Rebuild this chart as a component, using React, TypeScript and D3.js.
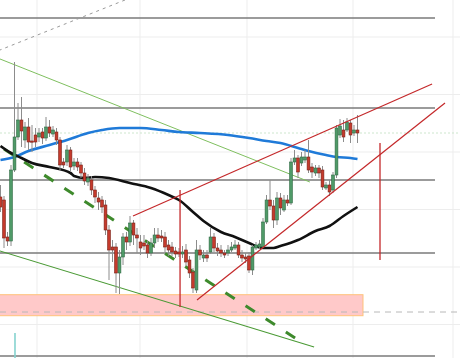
import React, { useEffect } from 'react';
import * as d3 from 'd3';

const W = 460;
const H = 358;

// Candles (price units)
const OPEN = [
  803,800,763,759,830,863,880,860,873,859,
  865,863,868,862,873,866,868,860,838,838,
  850,834,838,835,827,818,820,810,802,800,
  795,770,753,753,727,743,763,758,777,765,
  758,757,755,747,757,765,764,763,755,753,
  749,748,746,750,740,728,710,750,742,745,
  748,763,752,750,747,747,750,752,755,745,
  743,744,730,752,753,753,778,800,794,780,
  802,790,800,797,838,842,837,840,843,833,
  827,832,830,812,815,810,825,865,870,870,
  877,867,870
];
const CLOSE = [
  793,762,759,830,863,880,869,873,858,858,
  858,867,862,873,867,870,860,835,835,850,
  833,838,833,827,819,822,810,803,798,793,
  770,750,750,727,743,763,758,777,765,762,
  752,754,747,757,765,762,762,753,750,748,
  746,746,748,738,727,712,750,745,745,742,
  763,752,749,747,745,750,753,755,745,742,
  741,730,753,755,756,778,800,794,780,802,
  792,800,797,838,842,828,843,843,830,828,
  832,827,813,815,808,825,872,874,863,878,
  865,870,867
];
const HIGH = [
  815,804,768,835,938,897,903,878,882,875,
  872,872,872,883,880,874,872,863,842,855,
  853,842,842,838,832,826,824,814,808,804,
  800,775,760,757,750,767,768,784,780,772,
  765,765,760,762,772,772,770,768,760,758,
  753,752,754,756,744,732,760,755,750,750,
  773,767,757,755,750,755,758,760,758,750,
  747,748,755,758,760,782,805,820,800,808,
  807,805,805,842,850,845,848,850,860,837,
  835,835,834,818,820,828,875,881,880,882,
  880,875,885
];
const LOW = [
  788,752,754,754,828,860,853,852,850,848,
  853,858,856,859,863,863,855,830,832,834,
  828,830,829,822,815,814,805,797,790,787,
  765,720,738,707,706,735,750,754,755,747,
  745,750,742,744,752,758,758,748,744,744,
  742,743,742,734,722,707,707,740,738,738,
  746,748,744,743,742,744,748,750,742,738,
  737,727,725,750,751,752,776,790,772,775,
  785,788,794,795,835,822,834,837,827,822,
  824,822,810,810,804,807,822,862,858,868,
  857,864,857
];

// Moving averages (candle index, price)
const BLUE_IDX = [0,4,8,14,19,25,29,34,40,46,51,57,65,71,76,80,85,88,93,96,100,102];
const BLUE_VAL = [840,843,849,855,860,867,870,872,872,870,868,867,865,862,859,857,852,849,845,843,842,841];
const BLACK_IDX = [0,3,6,9,14,20,21,24,27,31,37,43,48,51,55,58,63,67,71,75,78,80,85,90,94,98,102];
const BLACK_VAL = [854,847,842,837,833,827,824,822,823,822,817,812,805,800,788,779,768,763,757,752,752,754,760,769,774,784,793];

// Drawn trend lines: [index, price] endpoints
const GRAY_DOTTED = [[-0.5, 949.5], [36, 1000.6]];
const GREEN_UPPER = [[-0.5, 941.5], [88.4, 818]];
const GREEN_LOWER = [[-0.5, 749.4], [89.6, 653]];
const GREEN_DASHED = [[1, 851], [86.4, 657]];
const RED_UPPER = [[37.86, 784], [123.3, 916]];
const RED_LOWER = [[56.14, 700], [127, 897]];
const RED_VERT_A = [[51.3, 810], [51.3, 693]];
const RED_VERT_B = [[108.43, 857], [108.43, 740]];

// Horizontal levels and grid
const LEVELS = [982, 892, 820, 747, 644];
const LEVEL_SPAN = [-0.5, 124.14];
const GRID_PRICES = [963, 905.5, 848, 790.5, 733, 675.5];
const GRID_IDX = [10.43, 39.86, 70.43, 100.71, 129.29];
const DOTTED_LEVEL = 867;
const DASHED_LEVEL = 688;
const ZONE_PRICES = [684.3, 705.3];
const ZONE_IDX = [-0.5, 103.57];
const TEAL_BAR = [4.14, 667, 642];

export default function App() {
  useEffect(() => {
    document.body.style.margin = '0';
  }, []);

  const x = d3.scaleLinear().domain([0, OPEN.length - 1]).range([0.5, 357.5]);
  const y = d3.scaleLinear().domain([642, 1000]).range([H, 0]);

  const seg = d3.line<number[]>().x(d => x(d[0])).y(d => y(d[1]));
  const ma = d3.line<[number, number]>().x(d => x(d[0])).y(d => y(d[1])).curve(d3.curveMonotoneX);
  const bluePts = d3.zip(BLUE_IDX, BLUE_VAL) as [number, number][];
  const blackPts = d3.zip(BLACK_IDX, BLACK_VAL) as [number, number][];

  const bodyW = 2.8;

  return (
    <svg width={W} height={H} style={{ position: 'absolute', left: 0, top: 0, background: '#fff' }}>
      {GRID_PRICES.map((p, i) => (
        <line key={'gh' + i} x1={0} x2={W} y1={y(p)} y2={y(p)} stroke="#ededed" strokeWidth={1} />
      ))}
      {GRID_IDX.map((g, i) => (
        <line key={'gv' + i} x1={x(g)} x2={x(g)} y1={0} y2={H} stroke="#ededed" strokeWidth={1} />
      ))}

      <rect
        x={x(ZONE_IDX[0])}
        width={x(ZONE_IDX[1]) - x(ZONE_IDX[0])}
        y={y(ZONE_PRICES[1])}
        height={y(ZONE_PRICES[0]) - y(ZONE_PRICES[1])}
        fill="#ffc9c9"
        stroke="#ffc27a"
        strokeWidth={1}
      />
      <line x1={0} x2={W} y1={y(DASHED_LEVEL)} y2={y(DASHED_LEVEL)} stroke="#b8b8b8" strokeWidth={1} strokeDasharray="6 5" />
      <line x1={0} x2={W} y1={y(DOTTED_LEVEL)} y2={y(DOTTED_LEVEL)} stroke="#cde6cd" strokeWidth={1} strokeDasharray="2 2" />

      {LEVELS.map((p, i) => (
        <line key={'lv' + i} x1={x(LEVEL_SPAN[0])} x2={x(LEVEL_SPAN[1])} y1={y(p)} y2={y(p)} stroke="#7a7a7a" strokeWidth={1.4} />
      ))}

      <line x1={x(TEAL_BAR[0])} x2={x(TEAL_BAR[0])} y1={y(TEAL_BAR[1])} y2={y(TEAL_BAR[2])} stroke="#86d3cf" strokeWidth={1.6} />

      <path d={seg(GRAY_DOTTED) || ''} stroke="#9a9a9a" strokeWidth={1} strokeDasharray="3 4" fill="none" />
      <path d={seg(GREEN_UPPER) || ''} stroke="#7fbf5f" strokeWidth={1} fill="none" />
      <path d={seg(GREEN_LOWER) || ''} stroke="#4a9a35" strokeWidth={1.1} fill="none" />
      <path d={seg(GREEN_DASHED) || ''} stroke="#3e8a2c" strokeWidth={3} strokeDasharray="11 13" fill="none" />

      <path d={ma(bluePts) || ''} stroke="#1f7ad8" strokeWidth={2.6} fill="none" />
      <path d={ma(blackPts) || ''} stroke="#111" strokeWidth={2.6} fill="none" />

      {OPEN.map((o, i) => {
        const c = CLOSE[i];
        const up = c >= o;
        const cx = x(i);
        const top = y(Math.max(o, c));
        const bot = y(Math.min(o, c));
        return (
          <g key={'c' + i}>
            <line x1={cx} x2={cx} y1={y(HIGH[i])} y2={y(LOW[i])} stroke="#8c8c8c" strokeWidth={1} />
            <rect
              x={cx - bodyW / 2}
              y={top}
              width={bodyW}
              height={Math.max(1.2, bot - top)}
              fill={up ? '#4f9a68' : '#c53a2c'}
              stroke={up ? '#2f6a43' : '#7a1e15'}
              strokeWidth={0.6}
            />
          </g>
        );
      })}

      <path d={seg(RED_UPPER) || ''} stroke="#c4282a" strokeWidth={1.2} fill="none" />
      <path d={seg(RED_LOWER) || ''} stroke="#c4282a" strokeWidth={1.2} fill="none" />
      <path d={seg(RED_VERT_A) || ''} stroke="#c4282a" strokeWidth={1.3} fill="none" />
      <path d={seg(RED_VERT_B) || ''} stroke="#c4282a" strokeWidth={1.3} fill="none" />
    </svg>
  );
}
